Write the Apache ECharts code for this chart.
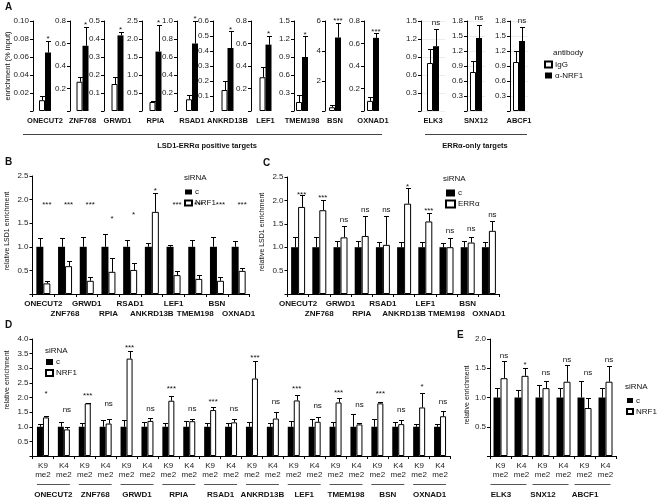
<!DOCTYPE html>
<html><head><meta charset="utf-8">
<script src="https://cdn.jsdelivr.net/npm/echarts@6/dist/echarts.min.js"></script>
<style>html,body{margin:0;padding:0;background:#fff}#c{width:660px;height:499px}</style>
</head><body><div id="c"></div>
<script>
// ---------- Panel A data ----------
const aGenes = ['ONECUT2','ZNF768','GRWD1','RPIA','RSAD1','ANKRD13B','LEF1','TMEM198','BSN','OXNAD1','ELK3','SNX12','ABCF1'];
const aIgG = [0.012,0.26,0.15,0.25,0.13,0.14,0.30,0.15,0.25,0.09,0.80,0.78,0.98];
const aIgGErr = [0.017,0.30,0.19,0.28,0.18,0.20,0.39,0.26,0.38,0.125,1.04,1.00,1.21];
const aNRF1 = [0.065,0.58,0.42,1.65,0.75,0.42,0.59,0.90,4.9,0.65,1.08,1.46,1.40];
const aNRF1Err = [0.078,0.75,0.44,2.40,1.00,0.53,0.67,1.245,5.9,0.69,1.37,1.73,1.68];
const aSig = ['*','*','*','*','*','*','*','*','***','***','ns','ns','ns'];
const aYMax = [0.1,0.8,0.5,2.5,1.0,0.6,0.8,1.5,6,0.8,1.5,1.8,1.8];
const aYStep = [0.02,0.2,0.1,0.5,0.2,0.1,0.2,0.3,2,0.2,0.3,0.3,0.3];

// ---------- Panel B data ----------
const bGenes = ['ONECUT2','ZNF768','GRWD1','RPIA','RSAD1','ANKRD13B','LEF1','TMEM198','BSN','OXNAD1'];
const bCtrl = [1,1,1,1,1,1,1,1,1,1];
const bCtrlErr = [1.18,1.18,1.21,1.27,1.14,1.08,1.03,1.15,1.20,1.13];
const bNRF1 = [0.225,0.59,0.28,0.47,0.51,1.74,0.40,0.32,0.28,0.49];
const bNRF1Err = [0.28,0.70,0.35,0.77,0.66,2.14,0.49,0.40,0.37,0.56];
const bSig = ['***','***','***','*','*','*','***','***','***','***'];
const bSigAt = [1.94,1.94,1.94,1.64,1.73,2.22,1.94,1.94,1.94,1.94];

// ---------- Panel C data ----------
const cGenes = ['ONECUT2','ZNF768','GRWD1','RPIA','RSAD1','ANKRD13B','LEF1','TMEM198','BSN','OXNAD1'];
const cCtrl = [1,1,1,1,1,1,1,1,1,1];
const cCtrlErr = [1.21,1.21,1.14,1.14,1.11,1.11,1.11,1.10,1.14,1.12];
const cERRa = [1.86,1.79,1.21,1.24,1.05,1.93,1.55,1.00,1.10,1.35];
const cERRaErr = [2.11,2.01,1.46,1.66,1.66,2.27,1.73,1.20,1.22,1.57];
const cSig = ['***','***','ns','ns','ns','*','***','ns','ns','ns'];
const cSigAt = [2.16,2.09,1.58,1.79,1.79,2.34,1.83,1.36,1.39,1.70];

// ---------- Panel D data ----------
const dGenes = ['ONECUT2','ZNF768','GRWD1','RPIA','RSAD1','ANKRD13B','LEF1','TMEM198','BSN','OXNAD1'];
const dMarks = ['K9\nme2','K4\nme2'];
const dCtrl = [1,1,1,1,1,1,1,1,1,1,1,1,1,1,1,1,1,1,1,1];
const dCtrlErr = [1.11,1.17, 1.14,1.23, 1.23,1.17, 1.14,1.20, 1.14,1.14, 1.17,1.14, 1.19,1.25, 1.17,1.43, 1.25,1.17, 1.11,1.11];
const dNRF1 = [1.32,0.91, 1.80,1.11, 3.33,1.20, 1.89,1.19, 1.57,1.15, 2.65,1.28, 1.90,1.17, 1.83,1.08, 1.80,1.09, 1.66,1.36];
const dNRF1Err = [1.375,1.00, 1.82,1.28, 3.59,1.31, 2.06,1.28, 1.66,1.25, 3.24,1.51, 2.10,1.32, 1.97,1.14, 1.85,1.23, 2.16,1.55];
const dSig = ['*','ns','***','ns','***','ns','***','ns','***','ns','***','ns','***','ns','***','ns','***','ns','*','ns'];
const dSigAt = [2.19,1.57, 2.14,1.77, 3.78,1.63, 2.36,1.63, 1.91,1.60, 3.44,1.85, 2.36,1.70, 2.23,1.74, 2.19,1.57, 2.42,1.85];

// ---------- Panel E data ----------
const eGenes = ['ELK3','SNX12','ABCF1'];
const eCtrl = [1,1,1,1,1,1];
const eCtrlErr = [1.16,1.12,1.22,1.16,1.28,1.16];
const eNRF1 = [1.33,1.37,1.16,1.27,0.82,1.27];
const eNRF1Err = [1.63,1.51,1.28,1.55,1.00,1.53];
const eSig = ['ns','*','ns','ns','ns','ns'];
const eSigAt = [1.72,1.59,1.42,1.65,1.42,1.65];

// ---------- helpers ----------
const FONT = '"Liberation Sans", Arial, sans-serif';
const chart = echarts.init(document.getElementById('c'), null, {renderer:'canvas', width:660, height:499});
const grids = [], xAxes = [], yAxes = [], series = [];

function yAxisCfg(gi, max, step, split){
  const dec = step < 0.1 ? 2 : (step >= 1 ? 0 : 1);
  return {type:'value', gridIndex:gi, min:0, max:max, interval:step,
    axisLine:{show:true, lineStyle:{color:'#000', width:1}},
    axisTick:{show:true, length:3, lineStyle:{color:'#000', width:1}},
    axisLabel:{fontSize:8, color:'#222', fontFamily:FONT, margin:4,
      formatter: v => (Math.abs(v) < 1e-9 ? '' : v.toFixed(dec))},
    splitLine:{show:!!split, lineStyle:{color:'#ececec', width:1}}};
}
function barSeries(name, xi, yi, vals, white, bw){
  return {type:'bar', name:name, xAxisIndex:xi, yAxisIndex:yi, data:vals, barWidth:bw, barGap:'0%',
    silent:true, z:2,
    itemStyle: white ? {color:'#fff', borderColor:'#000', borderWidth:1} : {color:'#000', borderColor:'#000', borderWidth:0}};
}
function errSeries(xi, yi, v1, e1, v2, e2, sig, sigAt, bw, capW){
  const n = v1.length;
  return {type:'custom', xAxisIndex:xi, yAxisIndex:yi, clip:false, z:5, silent:true,
    data: Array.from({length:n}, (_, i) => [i, v1[i], e1[i], v2[i], e2[i], sigAt ? sigAt[i] : -1]),
    encode:{x:0, y:1},
    renderItem: function(params, api){
      const i = api.value(0);
      const children = [];
      let topY = Infinity, treatX = 0;
      [[api.value(1), api.value(2), -bw/2], [api.value(3), api.value(4), bw/2]].forEach(function(b){
        const p = api.coord([i, b[0]]), q = api.coord([i, b[1]]);
        const x = Math.round(p[0] + b[2]) + 0.5;
        const qy = Math.round(q[1]) + 0.5;
        children.push({type:'line', shape:{x1:x, y1:p[1], x2:x, y2:qy}, style:{stroke:'#000', lineWidth:1}});
        children.push({type:'line', shape:{x1:x-capW/2, y1:qy, x2:x+capW/2, y2:qy}, style:{stroke:'#000', lineWidth:1}});
        topY = Math.min(topY, q[1]);
        treatX = p[0] + b[2];
      });
      const s = sig[i];
      const star = s.indexOf('*') >= 0;
      const lvl = api.value(5);
      const gy = lvl >= 0 ? api.coord([i, lvl])[1] : topY - (star ? 4 : 6.5);
      children.push({type:'text', x:treatX, y:gy + (star ? 2 : 0),
        style:{text:s, fill:'#111', font:'8px ' + FONT,
          align:'center', verticalAlign:'middle', textAlign:'center', textVerticalAlign:'middle'}});
      return {type:'group', children:children};
    }};
}
function underlineSeries(xi, yi, nGroups, dyPx, leftPad, rightPad){
  return {type:'custom', xAxisIndex:xi, yAxisIndex:yi, clip:false, z:5, silent:true,
    data: Array.from({length:nGroups}, (_, g) => [2*g, 2*g+1]),
    encode:{x:0},
    renderItem: function(params, api){
      const p1 = api.coord([api.value(0), 0]), p2 = api.coord([api.value(1), 0]);
      const y = Math.round(p1[1] + dyPx) + 0.5;
      return {type:'line', shape:{x1:p1[0]-leftPad, y1:y, x2:p2[0]+rightPad, y2:y}, style:{stroke:'#555', lineWidth:1}};
    }};
}

// ---------- Panel A: 13 small charts ----------
const aLayout = [[33,24],[70,25],[104,27],[142,27],[177,30],[213,29],[251,29],[294,16],[325,20],[364,18],[421,24],[467,18],[510,18]];
aGenes.forEach(function(g, k){
  const gi = grids.length;
  grids.push({left:aLayout[k][0], top:21, width:aLayout[k][1], height:90, containLabel:false, outerBoundsMode:'none'});
  const xi = xAxes.length;
  xAxes.push({type:'category', gridIndex:gi, data:[g], axisLine:{show:false}, axisTick:{show:false},
    axisLabel:{interval:0, fontSize:7.5, fontWeight:'bold', color:'#111', fontFamily:FONT, margin:5, lineHeight:10}});
  const yi = yAxes.length;
  yAxes.push(yAxisCfg(gi, aYMax[k], aYStep[k], k >= 10));
  series.push(barSeries('IgG', xi, yi, [aIgG[k]], true, 6));
  series.push(barSeries('α-NRF1', xi, yi, [aNRF1[k]], false, 6));
  series.push(errSeries(xi, yi, [aIgG[k]], [aIgGErr[k]], [aNRF1[k]], [aNRF1Err[k]], [aSig[k]], null, 6, 5));
});

// ---------- Panel B ----------
(function(){
  const gi = grids.length;
  grids.push({left:32.5, top:176, width:217, height:118, containLabel:false, outerBoundsMode:'none'});
  const xi = xAxes.length;
  xAxes.push({type:'category', gridIndex:gi, data:bGenes,
    axisLine:{show:true, lineStyle:{color:'#000', width:1}}, axisTick:{show:true, length:3, lineStyle:{color:'#000'}},
    axisLabel:{interval:0, fontSize:8, fontWeight:'bold', color:'#111', fontFamily:FONT, margin:5, lineHeight:10,
      formatter:(v, i) => (i % 2 ? '\n' + v : v)}});
  const yi = yAxes.length;
  yAxes.push(yAxisCfg(gi, 2.5, 0.5, false));
  series.push(barSeries('c', xi, yi, bCtrl, false, 7));
  series.push(barSeries('NRF1', xi, yi, bNRF1, true, 7));
  series.push(errSeries(xi, yi, bCtrl, bCtrlErr, bNRF1, bNRF1Err, bSig, bSigAt, 7, 5));
})();

// ---------- Panel C ----------
(function(){
  const gi = grids.length;
  grids.push({left:287.5, top:177, width:212, height:117, containLabel:false, outerBoundsMode:'none'});
  const xi = xAxes.length;
  xAxes.push({type:'category', gridIndex:gi, data:cGenes,
    axisLine:{show:true, lineStyle:{color:'#000', width:1}}, axisTick:{show:true, length:3, lineStyle:{color:'#000'}},
    axisLabel:{interval:0, fontSize:8, fontWeight:'bold', color:'#111', fontFamily:FONT, margin:5, lineHeight:10,
      formatter:(v, i) => (i % 2 ? '\n' + v : v)}});
  const yi = yAxes.length;
  yAxes.push(yAxisCfg(gi, 2.5, 0.5, false));
  series.push(barSeries('c', xi, yi, cCtrl, false, 7));
  series.push(barSeries('ERRα', xi, yi, cERRa, true, 7));
  series.push(errSeries(xi, yi, cCtrl, cCtrlErr, cERRa, cERRaErr, cSig, cSigAt, 7, 5));
})();

// ---------- Panel D ----------
(function(){
  const gi = grids.length;
  grids.push({left:32.5, top:339, width:418, height:117, containLabel:false, outerBoundsMode:'none'});
  const cats = [];
  dGenes.forEach(() => { cats.push(dMarks[0]); cats.push(dMarks[1]); });
  const xi = xAxes.length;
  xAxes.push({type:'category', gridIndex:gi, data:cats,
    axisLine:{show:true, lineStyle:{color:'#000', width:1}}, axisTick:{show:true, length:3, lineStyle:{color:'#000'}},
    axisLabel:{interval:0, fontSize:8, color:'#222', fontFamily:FONT, margin:5, lineHeight:9}});
  xAxes.push({type:'category', gridIndex:gi, data:dGenes, position:'bottom', offset:0,
    axisLine:{show:false}, axisTick:{show:false},
    axisLabel:{interval:0, fontSize:8, fontWeight:'bold', color:'#111', fontFamily:FONT, margin:34, lineHeight:10}});
  const yi = yAxes.length;
  yAxes.push(yAxisCfg(gi, 4.0, 0.5, false));
  series.push(barSeries('c', xi, yi, dCtrl, false, 6));
  series.push(barSeries('NRF1', xi, yi, dNRF1, true, 6));
  series.push(errSeries(xi, yi, dCtrl, dCtrlErr, dNRF1, dNRF1Err, dSig, dSigAt, 6, 5));
  series.push(underlineSeries(xi, yi, dGenes.length, 28, 6, 6));
})();

// ---------- Panel E ----------
(function(){
  const gi = grids.length;
  grids.push({left:490, top:339, width:126, height:117, containLabel:false, outerBoundsMode:'none'});
  const cats = [];
  eGenes.forEach(() => { cats.push(dMarks[0]); cats.push(dMarks[1]); });
  const xi = xAxes.length;
  xAxes.push({type:'category', gridIndex:gi, data:cats,
    axisLine:{show:true, lineStyle:{color:'#000', width:1}}, axisTick:{show:true, length:3, lineStyle:{color:'#000'}},
    axisLabel:{interval:0, fontSize:8, color:'#222', fontFamily:FONT, margin:5, lineHeight:9}});
  xAxes.push({type:'category', gridIndex:gi, data:eGenes, position:'bottom', offset:0,
    axisLine:{show:false}, axisTick:{show:false},
    axisLabel:{interval:0, fontSize:8, fontWeight:'bold', color:'#111', fontFamily:FONT, margin:34, lineHeight:10,
      padding:[0,20,0,0]}});
  const yi = yAxes.length;
  yAxes.push(yAxisCfg(gi, 2.0, 0.5, false));
  series.push(barSeries('c', xi, yi, eCtrl, false, 7));
  series.push(barSeries('NRF1', xi, yi, eNRF1, true, 7));
  series.push(errSeries(xi, yi, eCtrl, eCtrlErr, eNRF1, eNRF1Err, eSig, eSigAt, 7, 5));
  series.push(underlineSeries(xi, yi, eGenes.length, 28, 10, 5));
})();

// ---------- annotations ----------
function txt(text, x, y, opts){
  opts = opts || {};
  return {type:'text', x:x, y:y, rotation:opts.rot || 0, silent:true,
    style:{text:text, fill:'#111', font:(opts.bold ? 'bold ' : '') + (opts.size || 8) + 'px ' + FONT,
      align:opts.align || 'left', verticalAlign:'middle', textAlign:opts.align || 'left', textVerticalAlign:'middle'}};
}
function hline(x1, x2, y){
  return {type:'line', silent:true, shape:{x1:x1, y1:y + 0.5, x2:x2, y2:y + 0.5}, style:{stroke:'#444', lineWidth:1}};
}
const graphics = [
  txt('A', 5, 7, {bold:true, size:10}),
  txt('B', 5, 162, {bold:true, size:10}),
  txt('C', 263, 163, {bold:true, size:10}),
  txt('D', 5, 325, {bold:true, size:10}),
  txt('E', 457, 335.5, {bold:true, size:10}),
  txt('enrichment (% input)', 7.5, 66, {rot:Math.PI/2, align:'center', size:7.5}),
  txt('relative LSD1 enrichment', 7.5, 231, {rot:Math.PI/2, align:'center', size:7}),
  txt('relative LSD1 enrichment', 262, 232, {rot:Math.PI/2, align:'center', size:7}),
  txt('relative enrichment', 7.5, 380, {rot:Math.PI/2, align:'center', size:7}),
  txt('relative enrichment', 467, 395, {rot:Math.PI/2, align:'center', size:7}),
  hline(23, 382, 134),
  hline(425, 527, 134),
  txt('LSD1-ERRα positive targets', 207, 146, {bold:true, align:'center', size:7.5}),
  txt('ERRα-only targets', 475, 146, {bold:true, align:'center', size:7.5}),
  txt('antibody', 553, 53, {}),
  txt('siRNA', 184, 178, {}),
  txt('siRNA', 443, 179, {}),
  txt('siRNA', 45, 351, {}),
  txt('siRNA', 625, 387, {})
];

function legendCfg(names, left, top, w, h){
  return {data:names, left:left, top:top, orient:'vertical', icon:'rect', itemWidth:w, itemHeight:h,
    itemGap:2, padding:0, selectedMode:false,
    textStyle:{fontSize:8, color:'#111', fontFamily:FONT, lineHeight:9, padding:[0,0,0,-2]}};
}

chart.setOption({
  animation:false,
  backgroundColor:'#fff',
  textStyle:{fontFamily:FONT},
  grid:grids, xAxis:xAxes, yAxis:yAxes, series:series,
  legend:[
    legendCfg(['IgG','α-NRF1'], 544, 60, 7, 6),
    legendCfg(['c','NRF1'], 184, 187.5, 7, 5),
    legendCfg(['c','ERRα'], 445, 188.5, 9, 7),
    legendCfg(['c','NRF1'], 45, 357.5, 7, 6),
    legendCfg(['c','NRF1'], 626, 396, 6, 5)
  ],
  graphic:graphics
});
</script>
</body></html>
